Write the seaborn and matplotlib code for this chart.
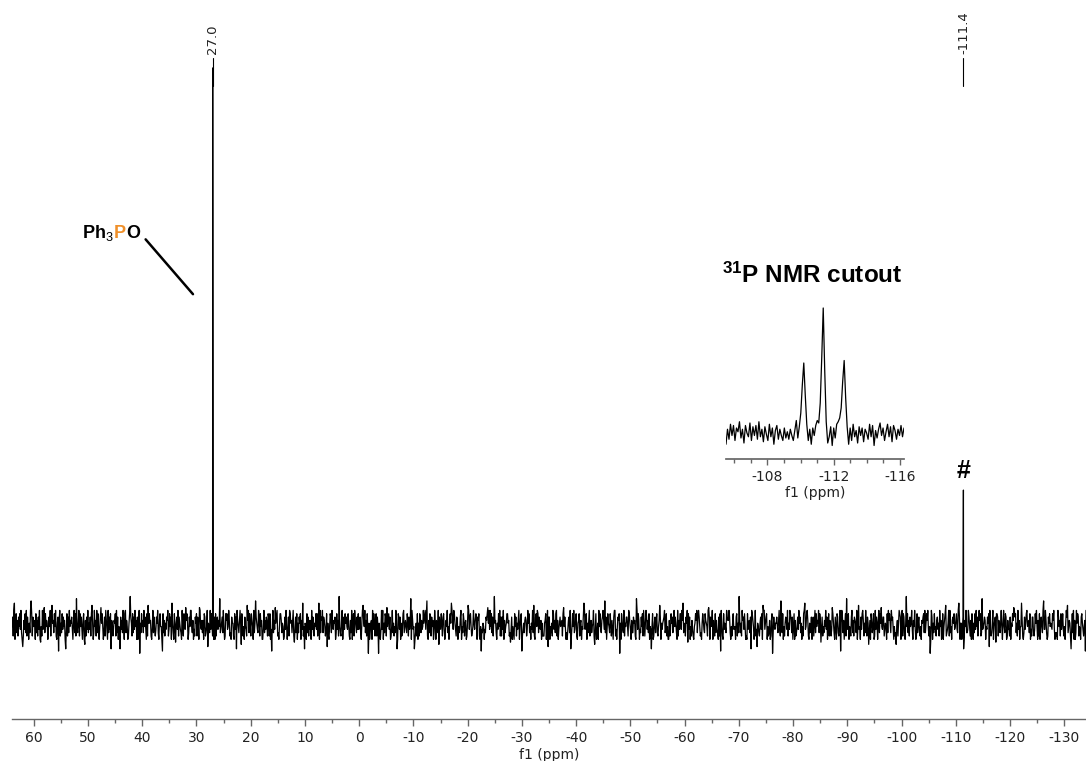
import numpy as np
import pandas as pd
import matplotlib
matplotlib.use("Agg")
import matplotlib.pyplot as plt
import seaborn as sns
from matplotlib.offsetbox import TextArea, HPacker, AnnotationBbox
from matplotlib.ticker import MultipleLocator
import matplotlib.transforms as mtransforms

# ---------------- data ----------------
# main 31P spectrum window (ppm)
ppm_window = [64.0, -134.0]
# baseline noise, coded one character per point:
# digits 0-9 are ordinary noise levels, a-f upward spikes, u-z downward spikes
noise_code = """
4719c05826 17483920w1 6382917405 29d8174650 82617390u4 1937a28465 0374918b56 28491057y6 9152837460 x381729465
73059281e4 2591847306 80v6173925 3718b50294 619283047a 5840271963 092738x651 3658192704 1x73629508 92640158f7
5182739460 7039z52846 29473081b5 8561049273 1375920684 40y8261537 69138470c5 2084u57391 7532094186 3a68502749
9426031758 1750a94362 60871249w5 4293851607 08157364e2 3572940186 8349612075 510837x964 2695v83140 7431b69285
18640925d7 5329718460 0492637518 71803y4926 3a57912048 8625401739 4037198562 691u372805 2758063c14 x540827163
6093721548 3815c09276 92764138w5 1048729536 57028361f4 2169047385 7438510629 0581964273 83472059b6 4926183z50
2560938417 8174z52039 39052871a4 6837014925 14296x0873 7051389246 42861735e0 9634x02518 0518726349 57938d1062
8317460295 06429v7538 5178302649 240685c973 9853176042 3790428615 6015b93784 1249536870 768104y325 4032768a59
39482716f5 6205384917 1739062458 85612u3704 2084715369 0478y13526 7613958240 5392b10784 9827436051 11568039w7
7042519836 2891603574 5618a47302 036729x148 4923781056 81560437c9 3780526914 624591v380 1509483267 963d270485
4285163079 91304768z5 0863291547 7419853062 275610e938 6032748195 1597362804 3x48015726 82146b7053 5679238140
0613857249 4752091638 8396c24517 59u8370416 3104586927 9741205863 2865419a70 7459063182 6320718y94 1083542976
6972041583 34078152f6 2519673840 10834627x9 86402913w5 42157380b9 9357804126 0168z27435 57426931d8 2804157639
1539862704 8061247395 72504189c3 4896105237 0371592846 59286u3714 2649370581 6413a85207 30872149y5 97260481e3
5804317926 17652904b3 4073896152 93175v2608 6248019375 069285a437 7135408296 8529673041 2v46159870 39187205f4
8261745930 6493018257 3140657829 25869314z0 9705283416 7351946028 0468b12359 1924067583 468329c705 5037x16492
2397416085 0528394716 96812e3457 6043758w92 12590467u8 8716325940 5942870163 31705486a9 7825193604 4c61027358
9456280317 7213859406 18057429d3 3962017584 5438693021 2097461835 83140597b2 4651x38290 6029587143 07853146y9
"""
noise_levels = {
    "0": -2.6, "1": -2.0, "2": -1.4, "3": -0.8, "4": -0.3,
    "5": 0.3, "6": 0.8, "7": 1.4, "8": 2.0, "9": 2.6,
    "a": 3.1, "b": 3.5, "c": 3.9, "d": 4.3, "e": 4.7, "f": 5.1,
    "u": -3.1, "v": -3.5, "w": -3.9, "x": -4.3, "y": -4.7, "z": -5.1,
}
peak_ppm = [27.0, -111.4]
peak_height = [100.0, 24.2]
peak_labels = ["27.0", "-111.4"]

# inset (cutout) of the -111 ppm triplet
inset_window = [-105.5, -116.25]
inset_intensity = [
    -9, 3, -5, 7, -2, 6, -6, 4, 1, 9, -4, 3, -8, 6, 0, -3, 8, -6, 5, -2,
    6, -5, 9, -3, 3, -7, 5, -1, -6, 7, -3, 4, -9, 2, 6, -5, 3, -2, -6, 4,
    -4, 1, -5, 3, -2, -6, 2, 10, -4,
    5, 16, 38, 56, 30, 7, -6,
    3, -9, 4, -2, 6,
    10, 8, 24, 60, 100, 50, 9, -8,
    -3, 5, -10, 4, -4, 7, 9,
    12, 20, 41, 58, 28, 5, -9,
    4, -6, 7, -3, 2, -8, 5, -2, 4, -7, 3, 0, -5, 7, -3, 6, -10, 2, -4, 3,
    8, -2, 4, -6, 1, 7, -3, 5, -7, 6, 2, -5, 3, -2, 6, -3, 4,
]
main_ticks = list(range(60, -131, -10))
inset_ticks = [-108, -112, -116]

# ---------------- style ----------------
sns.set_theme(style="white")
plt.rcParams["font.family"] = ["DejaVu Sans"]
plt.rcParams["text.color"] = "black"
plt.rcParams["mathtext.fontset"] = "custom"
plt.rcParams["mathtext.rm"] = "Liberation Sans"
plt.rcParams["mathtext.bf"] = "Liberation Sans:bold"

fig = plt.figure(figsize=(10.86, 7.61), dpi=100)
W, H = 1086, 761
ax = fig.add_axes([12 / W, (H - 719) / H, 1074 / W, 719 / H])

baseline_noise = [noise_levels[c] for c in "".join(noise_code.split())]
noise_x = np.linspace(ppm_window[0], ppm_window[1], len(baseline_noise))
df = pd.DataFrame({
    "ppm": np.concatenate([noise_x, peak_ppm]),
    "intensity": np.concatenate([baseline_noise, peak_height]),
}).sort_values("ppm", ascending=False)
sns.lineplot(data=df, x="ppm", y="intensity", ax=ax, color="black",
             linewidth=0.9, estimator=None, sort=False)

ax.set_xlim(ppm_window[0], ppm_window[1])
ax.set_ylim(-16.9, 112.2)
for s in ["top", "left", "right"]:
    ax.spines[s].set_visible(False)
ax.spines["bottom"].set_color("#666666")
ax.spines["bottom"].set_linewidth(1.0)
ax.set_yticks([])
ax.set_xticks(main_ticks)
ax.set_xticklabels([str(t) for t in main_ticks])
ax.xaxis.set_minor_locator(MultipleLocator(5))
ax.tick_params(axis="x", which="major", direction="out", length=5, width=1,
               color="#666666", labelsize=10, labelcolor="#222222", pad=4, bottom=True)
ax.tick_params(axis="x", which="minor", direction="out", length=3, width=1,
               color="#666666", bottom=True)
ax.set_xlabel("f1 (ppm)", fontsize=10, color="#222222", labelpad=2)
ax.set_ylabel("")

# peak labels at the top
trans = mtransforms.blended_transform_factory(ax.transData, ax.transAxes)
for p, lab in zip(peak_ppm, peak_labels):
    ax.plot([p, p], [0.880, 0.919], transform=trans, color="black", lw=0.8)
    ax.text(p, 0.925, lab, transform=trans, rotation=90, ha="center", va="bottom",
            fontsize=9.5, color="#222222")

# '#' marker above the small peak
ax.text(peak_ppm[1], peak_height[1] + 1.2, "#", ha="center", va="bottom",
        fontsize=18, fontweight="bold", family="Liberation Sans", color="black")

# Ph3PO label with pointer
tp = dict(fontsize=13, fontweight="bold", family="Liberation Sans")
packer = HPacker(children=[
    TextArea("Ph$_{3}$", textprops=dict(color="black", **tp)),
    TextArea("P", textprops=dict(color="#F0902A", **tp)),
    TextArea("O", textprops=dict(color="black", **tp)),
], align="baseline", pad=0, sep=0)
ab = AnnotationBbox(packer, (82 / W, (H - 233) / H), xycoords="figure fraction",
                    box_alignment=(0, 0.5), frameon=False, pad=0)
fig.add_artist(ab)
ax.annotate("", xy=(30.3, 59.0), xytext=(39.7, 69.6),
            arrowprops=dict(arrowstyle="-", lw=1.8, color="black"))

# ---------------- inset ----------------
axi = fig.add_axes([726 / W, (H - 459) / H, 178 / W, 160 / H])
inset_x = np.linspace(inset_window[0], inset_window[1], len(inset_intensity))
dfi = pd.DataFrame({"ppm": inset_x, "intensity": inset_intensity})
sns.lineplot(data=dfi, x="ppm", y="intensity", ax=axi, color="black",
             linewidth=0.9, estimator=None, sort=False)
axi.set_xlim(inset_window[0], inset_window[1])
axi.set_ylim(-20.8, 107.2)
axi.patch.set_alpha(0)
for s in ["top", "left", "right"]:
    axi.spines[s].set_visible(False)
axi.spines["bottom"].set_color("#666666")
axi.set_yticks([])
axi.set_xticks(inset_ticks)
axi.set_xticklabels([str(t) for t in inset_ticks])
axi.xaxis.set_minor_locator(MultipleLocator(1))
axi.tick_params(axis="x", which="major", direction="out", length=4, width=1,
                color="#666666", labelsize=10, labelcolor="#222222", pad=4, bottom=True)
axi.tick_params(axis="x", which="minor", direction="out", length=3, width=1,
                color="#666666", bottom=True)
axi.set_xlabel("f1 (ppm)", fontsize=10, color="#222222", labelpad=1)
axi.set_ylabel("")

fig.text(812 / W, (H - 275) / H, r"$\mathbf{^{31}}$P NMR cutout", ha="center",
         va="center", fontsize=17.5, fontweight="bold", family="Liberation Sans",
         color="black")

fig.savefig("out.png", dpi=100)
